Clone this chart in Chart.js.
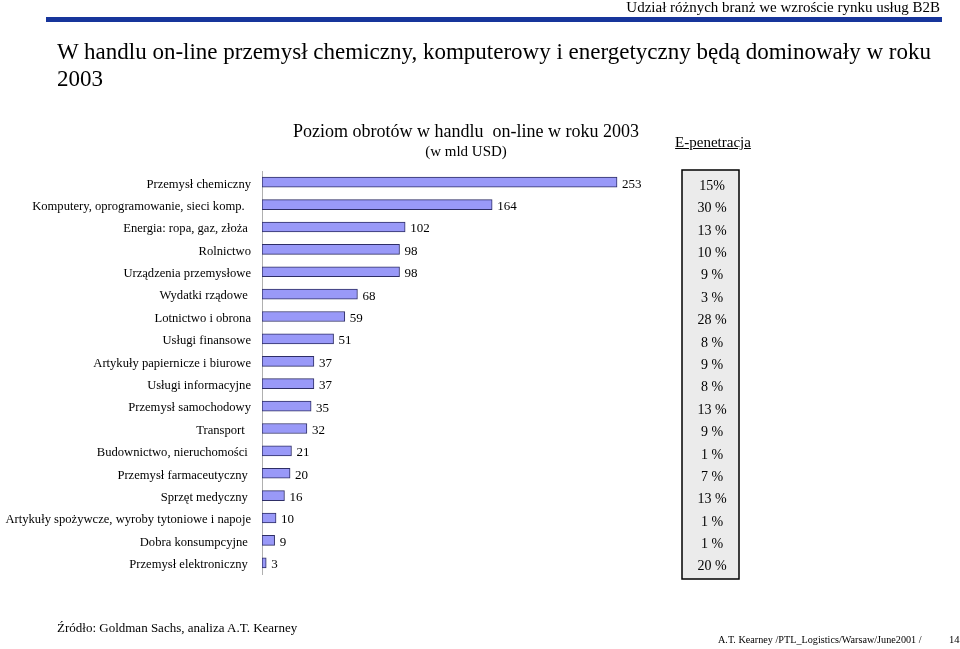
<!DOCTYPE html>
<html>
<head>
<meta charset="utf-8">
<script src="https://cdn.jsdelivr.net/npm/chart.js@4.4.1/dist/chart.umd.min.js"></script>
<style>
  html, body { margin: 0; padding: 0; background: #fff; }
  body { width: 960px; height: 649px; position: relative; overflow: hidden; font-family: "Liberation Serif", "DejaVu Serif", serif; color: #000; }
  #c { position: absolute; left: 0; top: 0; }
  .t { position: absolute; white-space: nowrap; line-height: 1; }
  #hdr { right: 20px; top: 0px; font-size: 15px; }
  #bar { position: absolute; left: 46px; top: 17px; width: 896px; height: 5px; background: #17359b; }
  #title { left: 57px; top: 38px; font-size: 23px; line-height: 27px; }
  #ctitle { left: 466px; top: 122px; font-size: 18px; transform: translateX(-50%); }
  #csub { left: 466px; top: 144px; font-size: 15px; transform: translateX(-50%); }
  #ep { left: 713px; top: 135px; font-size: 15px; transform: translateX(-50%); text-decoration: underline; }
  #src { left: 57px; top: 621px; font-size: 13px; }
  #foot { left: 718px; top: 635px; font-size: 10.2px; }
  #pg { left: 949px; top: 635px; font-size: 10.5px; }
</style>
</head>
<body>
<canvas id="c" width="960" height="649"></canvas>
<div class="t" id="hdr">Udział różnych branż we wzroście rynku usług B2B</div>
<div id="bar"></div>
<div class="t" id="title">W handlu on-line przemysł chemiczny, komputerowy i energetyczny będą dominowały w roku<br>2003</div>
<div class="t" id="ctitle">Poziom obrotów w handlu&nbsp; on-line w roku 2003</div>
<div class="t" id="csub">(w mld USD)</div>
<div class="t" id="ep">E-penetracja</div>
<div class="t" id="src">Źródło: Goldman Sachs, analiza A.T. Kearney</div>
<div class="t" id="foot">A.T. Kearney /PTL_Logistics/Warsaw/June2001 /</div>
<div class="t" id="pg">14</div>
<script>
const categories = [
  "Przemysł chemiczny",
  "Komputery, oprogramowanie, sieci komp.  ",
  "Energia: ropa, gaz, złoża ",
  "Rolnictwo",
  "Urządzenia przemysłowe",
  "Wydatki rządowe ",
  "Lotnictwo i obrona",
  "Usługi finansowe",
  "Artykuły papiernicze i biurowe",
  "Usługi informacyjne",
  "Przemysł samochodowy",
  "Transport  ",
  "Budownictwo, nieruchomości ",
  "Przemysł farmaceutyczny ",
  "Sprzęt medyczny ",
  "Artykuły spożywcze, wyroby tytoniowe i napoje",
  "Dobra konsumpcyjne ",
  "Przemysł elektroniczny "
];
const turnover = [253, 164, 102, 98, 98, 68, 59, 51, 37, 37, 35, 32, 21, 20, 16, 10, 9, 3];
const ePenetration = ["15%", "30 %", "13 %", "10 %", "9 %", "3 %", "28 %", "8 %", "9 %", "8 %", "13 %", "9 %", "1 %", "7 %", "13 %", "1 %", "1 %", "20 %"];

const serif = '"Liberation Serif", "DejaVu Serif", serif';

const valueLabels = {
  id: 'valueLabels',
  afterDatasetsDraw(chart) {
    const ctx = chart.ctx;
    const meta = chart.getDatasetMeta(0);
    ctx.save();
    ctx.font = '13px ' + serif;
    ctx.fillStyle = '#000';
    ctx.textAlign = 'left';
    ctx.textBaseline = 'middle';
    meta.data.forEach((el, i) => {
      ctx.fillText(String(turnover[i]), el.x + 5, el.y + 2);
    });
    ctx.restore();
  }
};

const penetrationBox = {
  id: 'penetrationBox',
  afterDraw(chart) {
    const ctx = chart.ctx;
    const y = chart.scales.y;
    ctx.save();
    ctx.fillStyle = '#ebebeb';
    ctx.fillRect(682, 170, 57, 409);
    ctx.strokeStyle = '#000';
    ctx.lineWidth = 1.5;
    ctx.strokeRect(682, 170, 57, 409);
    ctx.font = '14px ' + serif;
    ctx.fillStyle = '#000';
    ctx.textAlign = 'center';
    ctx.textBaseline = 'middle';
    ePenetration.forEach((p, i) => {
      ctx.fillText(p, 712, y.getPixelForValue(i) + 4);
    });
    ctx.restore();
  }
};

new Chart(document.getElementById('c'), {
  type: 'bar',
  data: {
    labels: categories,
    datasets: [{
      data: turnover,
      backgroundColor: '#9999f8',
      borderColor: '#2e2e66',
      borderWidth: 1,
      borderSkipped: false,
      barThickness: 10
    }]
  },
  options: {
    indexAxis: 'y',
    responsive: false,
    animation: false,
    devicePixelRatio: 1,
    layout: { padding: { left: 0, top: 171, bottom: 75, right: 277 } },
    plugins: { legend: { display: false }, tooltip: { enabled: false } },
    scales: {
      x: { display: false, min: 0, max: 300 },
      y: {
        grid: { display: false, drawTicks: false },
        border: { display: true, color: '#b0b0b0', width: 1 },
        ticks: { autoSkip: false, color: '#000', padding: 11, labelOffset: 2, font: { family: serif, size: 12.6 } },
        afterFit(s) { s.width = 262; }
      }
    }
  },
  plugins: [valueLabels, penetrationBox]
});
</script>
</body>
</html>
